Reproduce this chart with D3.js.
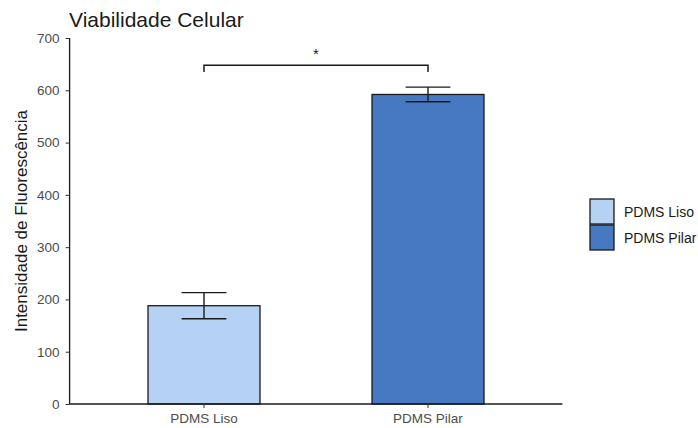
<!DOCTYPE html>
<html><head><meta charset="utf-8">
<script src="https://cdn.jsdelivr.net/npm/d3@7"></script>
<style>body{margin:0;background:#fff}svg{display:block}text{font-family:"Liberation Sans",Arial,sans-serif}</style>
</head><body>
<svg id="c" width="698" height="428"></svg>
<script>
const categories = ["PDMS Liso", "PDMS Pilar"];
const means = [188, 592];
const errLow = [163, 578];
const errHigh = [213, 606];
const colors = ["#b5d1f3", "#4679c1"];
const yTicks = [0, 100, 200, 300, 400, 500, 600, 700];
const bracketY = 648, bracketDrop = 635;
const sigLabel = "*";

const svg = d3.select("#c");
const x = d3.scaleLinear().domain([0.4, 2.6]).range([69.6, 562.4]);
const y = d3.scaleLinear().domain([0, 700]).range([404, 38]);
const pos = categories.map((c, i) => i + 1);
const bw = 0.5;

const g = svg.append("g");
g.selectAll("rect.bar").data(categories).join("rect")
  .attr("x", (d, i) => x(pos[i] - bw / 2))
  .attr("width", (d, i) => x(pos[i] + bw / 2) - x(pos[i] - bw / 2))
  .attr("y", (d, i) => y(means[i]))
  .attr("height", (d, i) => y(0) - y(means[i]))
  .attr("fill", (d, i) => colors[i])
  .attr("stroke", "#1a1a1a").attr("stroke-width", 1.3);

const cap = 0.1;
categories.forEach((c, i) => {
  const eg = g.append("g").attr("stroke", "#1a1a1a").attr("stroke-width", 1.4);
  eg.append("line").attr("x1", x(pos[i])).attr("x2", x(pos[i])).attr("y1", y(errLow[i])).attr("y2", y(errHigh[i]));
  eg.append("line").attr("x1", x(pos[i] - cap)).attr("x2", x(pos[i] + cap)).attr("y1", y(errLow[i])).attr("y2", y(errLow[i]));
  eg.append("line").attr("x1", x(pos[i] - cap)).attr("x2", x(pos[i] + cap)).attr("y1", y(errHigh[i])).attr("y2", y(errHigh[i]));
});

g.append("path")
  .attr("d", `M${x(1)},${y(bracketDrop)}V${y(bracketY)}H${x(2)}V${y(bracketDrop)}`)
  .attr("fill", "none").attr("stroke", "#1a1a1a").attr("stroke-width", 1.5);
g.append("text").attr("x", (x(1) + x(2)) / 2).attr("y", y(bracketY) - 6)
  .attr("text-anchor", "middle").attr("font-size", 15).attr("fill", "#1a1a1a").text(sigLabel);

const ya = svg.append("g").attr("transform", "translate(69.6,0)")
  .call(d3.axisLeft(y).tickValues(yTicks).tickSize(4).tickPadding(6));
ya.select(".domain").attr("stroke", "#1a1a1a").attr("stroke-width", 1.3).attr("d", `M0,${y(0)}V${y(700)}`);
ya.selectAll(".tick line").attr("stroke", "#333").attr("stroke-width", 1);
ya.selectAll(".tick text").attr("fill", "#4d4d4d").attr("font-size", 13.5).attr("font-family", "Liberation Sans, Arial, sans-serif");

const xa = svg.append("g").attr("transform", `translate(0,${y(0)})`);
xa.append("line").attr("x1", 69.6).attr("x2", 562.4).attr("stroke", "#1a1a1a").attr("stroke-width", 1.3);
categories.forEach((c, i) => {
  xa.append("line").attr("x1", x(pos[i])).attr("x2", x(pos[i])).attr("y1", 0).attr("y2", 4).attr("stroke", "#333");
  xa.append("text").attr("x", x(pos[i])).attr("y", 19).attr("text-anchor", "middle")
    .attr("font-size", 13.5).attr("fill", "#4d4d4d").text(c);
});

svg.append("text").attr("transform", `translate(27,${(y(0) + y(700)) / 2}) rotate(-90)`)
  .attr("text-anchor", "middle").attr("font-size", 17).attr("fill", "#1a1a1a").text("Intensidade de Fluorescência");

svg.append("text").attr("x", 69).attr("y", 27).attr("font-size", 21).attr("fill", "#1a1a1a").text("Viabilidade Celular");

const lg = svg.append("g").attr("transform", "translate(590,199)");
categories.forEach((c, i) => {
  lg.append("rect").attr("x", 0).attr("y", i * 26).attr("width", 24).attr("height", 25)
    .attr("fill", colors[i]).attr("stroke", "#1a1a1a").attr("stroke-width", 1.3);
  lg.append("text").attr("x", 34).attr("y", i * 26 + 17.5).attr("font-size", 14).attr("fill", "#1a1a1a").text(c);
});
</script>
</body></html>
